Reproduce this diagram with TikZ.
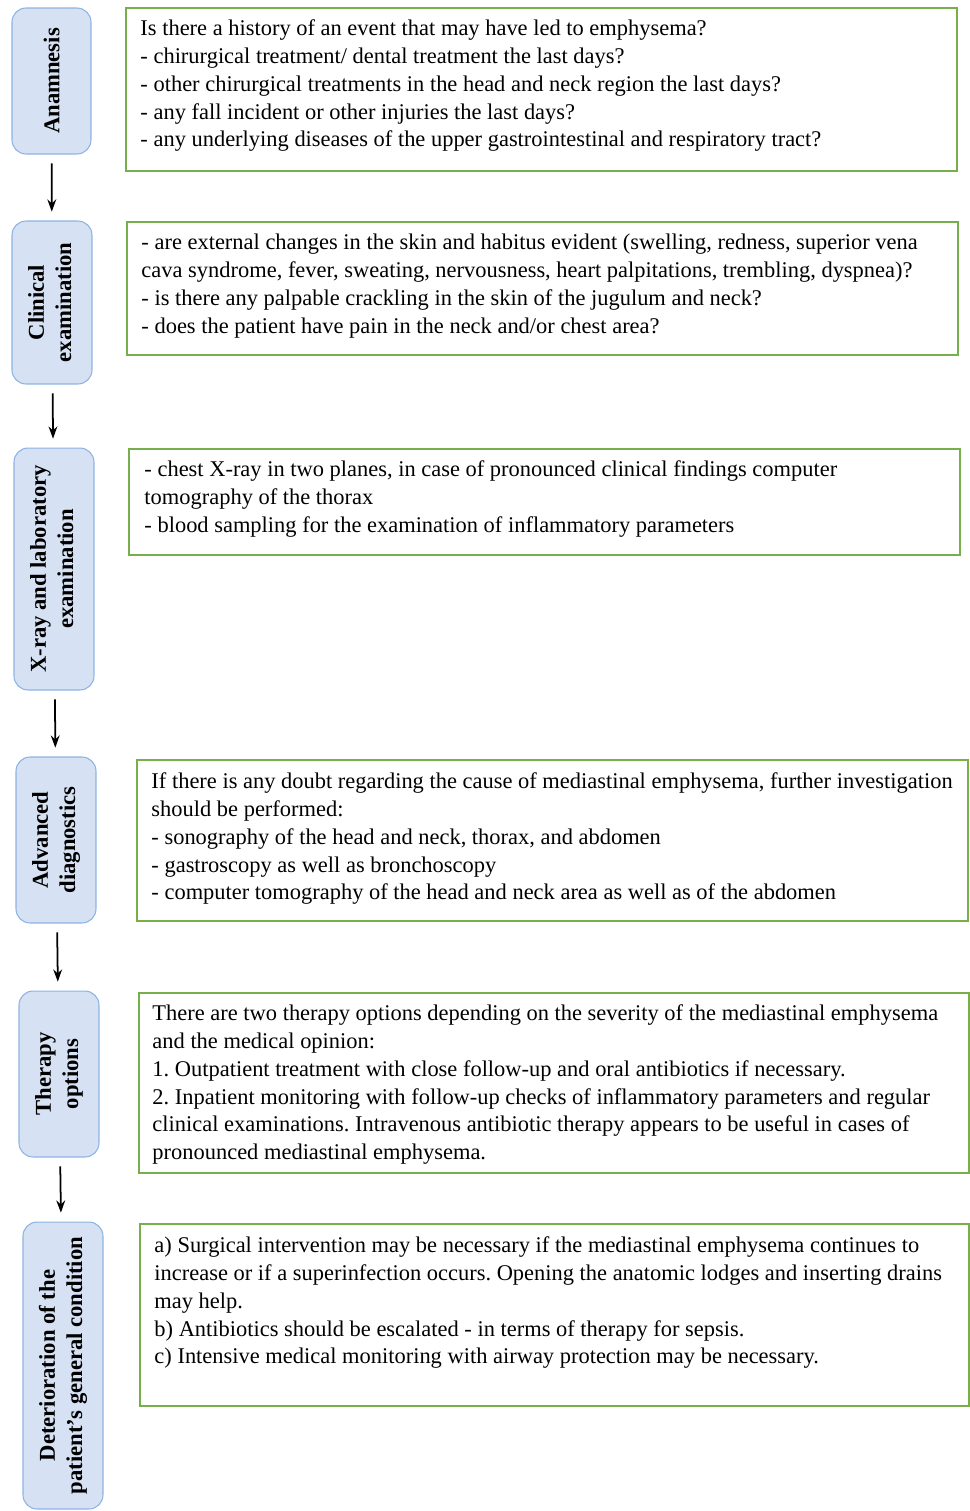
\documentclass[tikz,border=0pt]{standalone}
\usepackage{fontspec}
\setmainfont{Liberation Serif}
\usepackage{xcolor}
\usetikzlibrary{arrows.meta}

\definecolor{stagefill}{HTML}{D6E2F3}
\definecolor{stageline}{HTML}{8DB3E2}
\definecolor{infoline}{HTML}{77B04A}

\frenchspacing

\begin{document}
\begin{tikzpicture}[>={Stealth[length=7pt,width=5pt]}, x=0.02cm, y=-0.02cm,
  stage/.style={draw=stageline, fill=stagefill, rounded corners=8pt, line width=0.6pt,
    minimum width=1.6cm, inner sep=0pt, font=\fontsize{12.9}{15.5}\selectfont\bfseries},
  info/.style={draw=infoline, line width=1.1pt, minimum width=16.62cm, inner sep=0pt},
  txt/.style={anchor=north west, inner sep=0pt, align=left,
    font=\fontsize{12.78}{15.9}\selectfont},
  flow/.style={->, line width=1pt, shorten <=5pt, shorten >=5pt}]

\useasboundingbox (0,0) rectangle (970,1511);

% left column
\node[stage, minimum width=1.58cm, minimum height=2.92cm] (ana) at (51.5,81)
  {\rotatebox{90}{Anamnesis}};
\node[stage, minimum height=3.26cm] (cli) at (52,302.5)
  {\rotatebox{90}{\begin{tabular}{@{}c@{}}Clinical\\examination\end{tabular}}};
\node[stage, minimum height=4.84cm] (xray) at (54,569)
  {\rotatebox{90}{\begin{tabular}{@{}c@{}}X-ray and laboratory\\examination\end{tabular}}};
\node[stage, minimum height=3.32cm] (adv) at (56,840)
  {\rotatebox{90}{\begin{tabular}{@{}c@{}}Advanced\\diagnostics\end{tabular}}};
\node[stage, minimum height=3.32cm] (ther) at (59,1074)
  {\rotatebox{90}{\begin{tabular}{@{}c@{}}Therapy\\options\end{tabular}}};
\node[stage, minimum height=5.74cm] (det) at (63,1365.5)
  {\rotatebox{90}{\begin{tabular}{@{}c@{}}Deterioration of the\\patient's general condition\end{tabular}}};

\draw[flow] (ana) -- (cli);
\draw[flow] (cli) -- (xray);
\draw[flow] (xray) -- (adv);
\draw[flow] (adv) -- (ther);
\draw[flow] (ther) -- (det);

% right column
\node[info, minimum height=3.26cm] (anabox) at (541.5,89.5) {};
\node[info, minimum height=2.66cm] (clibox) at (542.5,288.5) {};
\node[info, minimum height=2.12cm] (xraybox) at (544.5,502) {};
\node[info, minimum height=3.22cm] (advbox) at (552.5,840.5) {};
\node[info, minimum width=16.60cm, minimum height=3.60cm] (therbox) at (554,1083) {};
\node[info, minimum width=16.58cm, minimum height=3.64cm] (detbox) at (554.5,1315) {};

\node[txt] (anatxt) at ([shift={(15,12)}]anabox.north west)
  {Is there a history of an event that may have led to emphysema?\\
   - chirurgical treatment/ dental treatment the last days?\\
   - other chirurgical treatments in the head and neck region the last days?\\
   - any fall incident or other injuries the last days?\\
   - any underlying diseases of the upper gastrointestinal and respiratory tract?};
\node[txt] (clitxt) at ([shift={(15,13)}]clibox.north west)
  {- are external changes in the skin and habitus evident (swelling, redness, superior vena\\
   cava syndrome, fever, sweating, nervousness, heart palpitations, trembling, dyspnea)?\\
   - is there any palpable crackling in the skin of the jugulum and neck?\\
   - does the patient have pain in the neck and/or chest area?};
\node[txt] (xraytxt) at ([shift={(16,12)}]xraybox.north west)
  {- chest X-ray in two planes, in case of pronounced clinical findings computer\\
   tomography of the thorax\\
   - blood sampling for the examination of inflammatory parameters};
\node[txt] (advtxt) at ([shift={(15,13)}]advbox.north west)
  {If there is any doubt regarding the cause of mediastinal emphysema, further investigation\\
   should be performed:\\
   - sonography of the head and neck, thorax, and abdomen\\
   - gastroscopy as well as bronchoscopy\\
   - computer tomography of the head and neck area as well as of the abdomen};
\node[txt] (thertxt) at ([shift={(14,12)}]therbox.north west)
  {There are two therapy options depending on the severity of the mediastinal emphysema\\
   and the medical opinion:\\
   1. Outpatient treatment with close follow-up and oral antibiotics if necessary.\\
   2. Inpatient monitoring with follow-up checks of inflammatory parameters and regular\\
   clinical examinations. Intravenous antibiotic therapy appears to be useful in cases of\\
   pronounced mediastinal emphysema.};
\node[txt] (dettxt) at ([shift={(15,13)}]detbox.north west)
  {a) Surgical intervention may be necessary if the mediastinal emphysema continues to\\
   increase or if a superinfection occurs. Opening the anatomic lodges and inserting drains\\
   may help.\\
   b) Antibiotics should be escalated - in terms of therapy for sepsis.\\
   c) Intensive medical monitoring with airway protection may be necessary.};

\end{tikzpicture}
\end{document}
